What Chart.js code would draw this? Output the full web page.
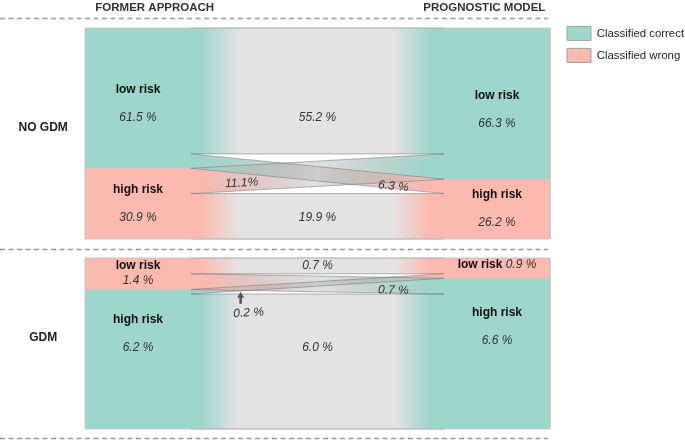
<!DOCTYPE html>
<html lang="en">
<head>
<meta charset="UTF-8">
<title>Former approach vs prognostic model</title>
<script src="https://cdn.jsdelivr.net/npm/chart.js"></script>
<style>
  html, body { margin: 0; padding: 0; background: #fff; }
  canvas { display: block; }
</style>
</head>
<body>
<canvas id="reclassChart" width="685" height="441"></canvas>
<script>
// ---- data (share of all pregnancies, %) ----
const columns = ['FORMER APPROACH', 'PROGNOSTIC MODEL'];
const groups = ['NO GDM', 'GDM'];
const riskLevels = ['low risk', 'high risk'];

const formerNoGdm = [61.5, 30.9];
const modelNoGdm = [66.3, 26.2];
const formerGdm = [1.4, 6.2];
const modelGdm = [0.9, 6.6];

// rows = former risk level, cols = prognostic model risk level
const flowsNoGdm = [[55.2, 6.3], [11.1, 19.9]];
const flowsGdm = [[0.7, 0.7], [0.2, 6.0]];
const flowTextNoGdm = [['55.2 %', '6.3 %'], ['11.1%', '19.9 %']];
const flowTextGdm = [['0.7 %', '0.7 %'], ['0.2 %', '6.0 %']];

// risk level that counts as "classified correct" in each group
const correctLevel = [0, 1];
const legendLabels = ['Classified correct', 'Classified wrong'];

// ---- look ----
const FONT = "'Liberation Sans', Arial, sans-serif";
const TEAL = '#9dd6cb';
const PINK = '#fbb9af';
const GRAY = '#e3e3e3';
const CROSS_MID = 'rgba(170,170,170,0.36)';
const X_NODE = 0.228;                      // node column width, share of plot width
const FADE = [0.247, 0.333, 0.665, 0.742]; // colour -> gray -> colour stops
const H = 441;
const LEGEND_W = 126;
const panelTop = [28, 258];
const panelBottom = [239, 429];
const labelAnchor = [0.54, 0.32];          // where the big node captions sit

const groupData = [
  { former: formerNoGdm, model: modelNoGdm, flows: flowsNoGdm, text: flowTextNoGdm },
  { former: formerGdm, model: modelGdm, flows: flowsGdm, text: flowTextGdm }
];

function stack(flows) {
  const bands = [], left = [], right = [];
  let yl = 0;
  for (let i = 0; i < 2; i++) {
    const s = yl;
    for (let j = 0; j < 2; j++) {
      bands.push({ i, j, v: flows[i][j], l0: yl, l1: yl + flows[i][j] });
      yl += flows[i][j];
    }
    left.push([s, yl]);
  }
  let yr = 0;
  for (let j = 0; j < 2; j++) {
    const s = yr;
    for (let i = 0; i < 2; i++) {
      const b = bands.find(b => b.i === i && b.j === j);
      b.r0 = yr; b.r1 = yr + b.v; yr += b.v;
    }
    right.push([s, yr]);
  }
  return { bands, left, right, total: yl };
}

const layouts = groupData.map(g => stack(g.flows));
const yIds = ['yNo', 'yGdm'];
const color = (g, lvl) => lvl === correctLevel[g] ? TEAL : PINK;

function bandGradient(chart, src, dst, cross) {
  if (!chart.chartArea) return src;
  const x = chart.scales.x;
  const grad = chart.ctx.createLinearGradient(x.getPixelForValue(0), 0, x.getPixelForValue(1), 0);
  grad.addColorStop(0, src);
  grad.addColorStop(FADE[0], src);
  if (cross) {
    grad.addColorStop(0.5, CROSS_MID);
  } else {
    grad.addColorStop(FADE[1], GRAY);
    grad.addColorStop(FADE[2], GRAY);
  }
  grad.addColorStop(FADE[3], dst);
  grad.addColorStop(1, dst);
  return grad;
}

const base = { showLine: true, tension: 0, pointRadius: 0, pointHoverRadius: 0 };
const datasets = [];
layouts.forEach((L, g) => {
  const yAxisID = yIds[g];
  // node blocks underneath the bands
  L.left.forEach((n, lvl) => datasets.push({ ...base, yAxisID, order: 4, fill: 'shape',
    borderColor: 'transparent', borderWidth: 0, backgroundColor: color(g, lvl),
    data: [{x: 0, y: n[0]}, {x: X_NODE, y: n[0]}, {x: X_NODE, y: n[1]}, {x: 0, y: n[1]}] }));
  L.right.forEach((n, lvl) => datasets.push({ ...base, yAxisID, order: 4, fill: 'shape',
    borderColor: 'transparent', borderWidth: 0, backgroundColor: color(g, lvl),
    data: [{x: 1 - X_NODE, y: n[0]}, {x: 1, y: n[0]}, {x: 1, y: n[1]}, {x: 1 - X_NODE, y: n[1]}] }));
  // flow bands: straight ones below, crossing ones on top
  L.bands.forEach(b => {
    const cross = b.i !== b.j;
    datasets.push({ ...base, yAxisID, order: cross ? 2 : 3, fill: 'shape',
      borderColor: 'transparent', borderWidth: 0,
      backgroundColor: c => bandGradient(c.chart, color(g, b.i), color(g, b.j), cross),
      data: [{x: 0, y: b.l0}, {x: X_NODE, y: b.l0}, {x: 1 - X_NODE, y: b.r0}, {x: 1, y: b.r0},
             {x: 1, y: b.r1}, {x: 1 - X_NODE, y: b.r1}, {x: X_NODE, y: b.l1}, {x: 0, y: b.l1}] });
    [[b.l0, b.r0], [b.l1, b.r1]].forEach(([a, z]) => datasets.push({ ...base, yAxisID, order: 1,
      fill: false, borderColor: 'rgba(110,110,110,0.5)', borderWidth: 1,
      data: [{x: X_NODE, y: a}, {x: 1 - X_NODE, y: z}] }));
  });
  // panel outline
  datasets.push({ ...base, yAxisID, order: 0, fill: false, borderColor: '#c8c8c8', borderWidth: 1,
    data: [{x: 0, y: 0}, {x: 1, y: 0}, {x: 1, y: L.total}, {x: 0, y: L.total}, {x: 0, y: 0}] });
});

function yRange(g) {
  const ppu = (panelBottom[g] - panelTop[g]) / layouts[g].total;
  return { min: -panelTop[g] / ppu, max: (H - panelTop[g]) / ppu };
}

function write(ctx, str, x, y, o = {}) {
  ctx.save();
  ctx.translate(x, y);
  if (o.angle) ctx.rotate(o.angle);
  ctx.font = `${o.italic ? 'italic ' : ''}${o.bold ? 'bold ' : ''}${o.size || 12}px ${FONT}`;
  ctx.fillStyle = o.color || '#222';
  ctx.textAlign = o.align || 'center';
  ctx.textBaseline = 'middle';
  ctx.fillText(str, 0, 0);
  ctx.restore();
}

const annotate = {
  id: 'annotate',
  beforeDatasetsDraw(chart) {
    const { ctx, scales } = chart;
    const x = scales.x;
    const t0 = scales.yNo.getPixelForValue(0);
    const b0 = scales.yNo.getPixelForValue(layouts[0].total);
    const t1 = scales.yGdm.getPixelForValue(0);
    const b1 = scales.yGdm.getPixelForValue(layouts[1].total);
    ctx.save();
    ctx.strokeStyle = '#9a9a9a';
    ctx.lineWidth = 1.3;
    ctx.setLineDash([5, 3.5]);
    [t0 - 10, (b0 + t1) / 2, b1 + 9].forEach(y => {
      ctx.beginPath();
      ctx.moveTo(0, Math.round(y) + 0.5);
      ctx.lineTo(x.getPixelForValue(1) - 2, Math.round(y) + 0.5);
      ctx.stroke();
    });
    ctx.restore();
    write(ctx, columns[0], x.getPixelForValue(0.15), t0 - 20, { bold: true, size: 11.5, color: '#333' });
    write(ctx, columns[1], x.getPixelForValue(0.99), t0 - 20, { bold: true, size: 11.5, color: '#333', align: 'right' });
  },
  afterDatasetsDraw(chart) {
    const { ctx, scales } = chart;
    const x = scales.x;
    layouts.forEach((L, g) => {
      const y = scales[yIds[g]];
      const gd = groupData[g];
      const top = y.getPixelForValue(0), bot = y.getPixelForValue(L.total);
      write(ctx, groups[g], x.getPixelForValue(-0.09), (top + bot) / 2 - 6, { bold: true });
      const valueRow = [];
      [[L.left, gd.former, X_NODE / 2], [L.right, gd.model, 1 - X_NODE / 2]].forEach(([nodes, vals, xv], side) => {
        nodes.forEach((n, lvl) => {
          const p0 = y.getPixelForValue(n[0]), p1 = y.getPixelForValue(n[1]);
          const h = p1 - p0, cx = x.getPixelForValue(xv);
          const val = vals[lvl].toFixed(1) + ' %';
          if (h < 26) {
            ctx.save();
            ctx.font = `bold 12px ${FONT}`;
            const w1 = ctx.measureText(riskLevels[lvl] + ' ').width;
            ctx.font = `italic 12px ${FONT}`;
            const w2 = ctx.measureText(val).width;
            ctx.restore();
            const sx = cx - (w1 + w2) / 2, cy = (p0 + p1) / 2 - 3;
            write(ctx, riskLevels[lvl], sx, cy, { bold: true, align: 'left', color: '#111' });
            write(ctx, val, sx + w1, cy, { italic: true, align: 'left', color: '#333' });
            if (side === 0) valueRow[lvl] = cy;
          } else if (h < 45) {
            write(ctx, riskLevels[lvl], cx, p0 + 8, { bold: true, color: '#111' });
            write(ctx, val, cx, p0 + 23, { italic: true, color: '#333' });
            if (side === 0) valueRow[lvl] = p0 + 23;
          } else {
            const c = h > 100 ? p0 + h * labelAnchor[g] : p0 + h / 2;
            write(ctx, riskLevels[lvl], cx, c - 14, { bold: true, color: '#111' });
            write(ctx, val, cx, c + 14, { italic: true, color: '#333' });
            if (side === 0) valueRow[lvl] = c + 14;
          }
        });
      });
      L.bands.forEach(b => {
        const txt = gd.text[b.i][b.j];
        const a0 = y.getPixelForValue(b.l0), a1 = y.getPixelForValue(b.l1);
        const z0 = y.getPixelForValue(b.r0), z1 = y.getPixelForValue(b.r1);
        if (b.i === b.j) {
          const ly = Math.min(Math.max(valueRow[b.i], a0 + 8), a1 - 8);
          write(ctx, txt, x.getPixelForValue(0.5), a1 - a0 < 20 ? (a0 + a1) / 2 : ly, { italic: true, color: '#333' });
          return;
        }
        const xa = x.getPixelForValue(X_NODE), xb = x.getPixelForValue(1 - X_NODE);
        const angle = Math.atan2((z0 + z1) / 2 - (a0 + a1) / 2, xb - xa);
        const t = b.i > b.j ? 0.2 : 0.8;
        const px = xa + t * (xb - xa);
        const topAt = a0 + t * (z0 - a0), botAt = a1 + t * (z1 - a1);
        if (botAt - topAt < 8) {
          const ax = px - 1;
          ctx.save();
          ctx.fillStyle = '#555';
          ctx.strokeStyle = '#555';
          ctx.lineWidth = 2.5;
          ctx.beginPath();
          ctx.moveTo(ax, botAt + 13);
          ctx.lineTo(ax, botAt + 6);
          ctx.stroke();
          ctx.beginPath();
          ctx.moveTo(ax, botAt + 1);
          ctx.lineTo(ax - 3.5, botAt + 7);
          ctx.lineTo(ax + 3.5, botAt + 7);
          ctx.closePath();
          ctx.fill();
          ctx.restore();
          write(ctx, txt, px + 7, botAt + 22, { italic: true, color: '#333', angle });
        } else {
          write(ctx, txt, px, (topAt + botAt) / 2 + 5, { italic: true, color: '#333', angle });
        }
      });
    });
  }
};

new Chart(document.getElementById('reclassChart'), {
  type: 'scatter',
  data: { datasets },
  options: {
    responsive: false,
    animation: false,
    events: [],
    layout: { padding: 0 },
    scales: {
      // 0..1 spans the two node columns; the left margin holds the group names
      x: { type: 'linear', min: -85 / 465, max: (685 - LEGEND_W - 85) / 465, display: false },
      yNo: { type: 'linear', reverse: true, display: false, ...yRange(0) },
      yGdm: { type: 'linear', reverse: true, display: false, ...yRange(1) }
    },
    plugins: {
      tooltip: { enabled: false },
      legend: {
        position: 'right',
        align: 'start',
        maxWidth: LEGEND_W,
        title: { display: true, text: '', padding: { top: 0, bottom: 4 }, font: { size: 12 } },
        labels: {
          boxWidth: 24,
          boxHeight: 14,
          padding: 8,
          color: '#222',
          font: { family: FONT, size: 11.4 },
          generateLabels: () => legendLabels.map((t, k) => ({
            text: t, fillStyle: k === 0 ? TEAL : PINK, strokeStyle: '#a0a0a0',
            fontColor: '#222', lineWidth: 1, hidden: false, datasetIndex: k
          }))
        }
      }
    }
  },
  plugins: [annotate]
});
</script>
</body>
</html>
